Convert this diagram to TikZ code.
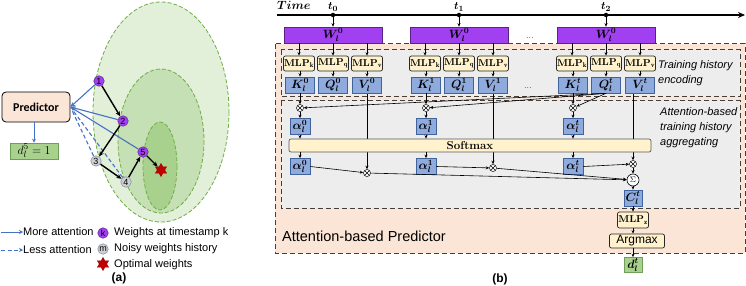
\documentclass[tikz,border=0pt]{standalone}
\usepackage{fontspec}
\usepackage{bm}
\usetikzlibrary{arrows.meta,shapes.geometric,calc}
\newfontfamily\arial{Liberation Sans}
\newfontfamily\carlito{Carlito}
\definecolor{peach}{HTML}{FBE5D6}
\definecolor{lgray}{HTML}{EDEDED}
\definecolor{mlpy}{HTML}{FFF2CC}
\definecolor{kqvfill}{HTML}{8FAADC}
\definecolor{kqvdraw}{HTML}{41639C}
\definecolor{purp}{HTML}{A040F0}
\definecolor{dgreen}{HTML}{A9D18E}
\definecolor{dgreenline}{HTML}{6E9F58}
\definecolor{ell1}{HTML}{E2F0D9}
\definecolor{ell2}{HTML}{C5E0B4}
\definecolor{ell3}{HTML}{A9D18E}
\definecolor{ellline}{HTML}{70AD47}
\definecolor{myblue}{HTML}{4472C4}
\definecolor{starred}{HTML}{C00000}
\definecolor{dashgray}{HTML}{404040}
\definecolor{nodegray}{HTML}{D0D0D0}
\definecolor{nodegrayline}{HTML}{8497B0}
\pgfdeclarelayer{bg}
\pgfdeclarelayer{mid}
\pgfsetlayers{bg,mid,main}
\begin{document}
\begin{tikzpicture}[x=1pt,y=-1pt,
  arr/.style={-{Stealth[length=3.5pt,width=3pt]}, line width=0.6pt},
  blkarr/.style={-{Stealth[length=5pt,width=4.5pt]}, line width=1.4pt},
  bluearr/.style={-{Stealth[length=5pt,width=4.5pt]}, draw=myblue, line width=1.1pt},
  bluedash/.style={draw=myblue, line width=1.1pt, dash pattern=on 4pt off 2.5pt},
  ellstyle/.style={draw=ellline, line width=0.8pt, dash pattern=on 4pt off 2pt},
  pnode/.style={circle, fill=purp, draw=purp!60!black, line width=0.5pt, minimum size=10.5pt, inner sep=0pt, font={\arial\fontsize{9}{9}\selectfont}},
  gnode/.style={circle, fill=nodegray, draw=nodegrayline, line width=0.6pt, minimum size=10.5pt, inner sep=0pt, font={\arial\fontsize{9}{9}\selectfont}},
  optstar/.style={star, star points=6, star point ratio=1.75, fill=starred, draw=starred!80!black, minimum size=13pt, inner sep=0pt},
  legtext/.style={anchor=west, inner sep=0pt, font={\arial\fontsize{11}{13}\selectfont}},
  container/.style={draw=dashgray, line width=1pt, dash pattern=on 5pt off 3pt},
  wbox/.style={draw=purp!55!black, line width=0.6pt, fill=purp, minimum width=98pt, minimum height=16pt, inner sep=0pt, font={\fontsize{12}{12}\selectfont}},
  mlpbox/.style={draw=black!85, line width=0.7pt, rounded corners=2pt, fill=mlpy, minimum width=31pt, minimum height=15pt, inner sep=0pt, font={\fontsize{10}{10}\selectfont}},
  vecbox/.style={draw=kqvdraw, line width=0.7pt, fill=kqvfill, minimum width=29pt, minimum height=16pt, inner sep=0pt, font={\fontsize{12}{12}\selectfont}},
  abox/.style={vecbox, minimum width=20pt},
  mulnode/.style={circle, draw, line width=0.5pt, minimum size=7pt, inner sep=0pt, fill=white,
    path picture={\draw[line width=0.4pt] (path picture bounding box.north west) -- (path picture bounding box.south east) (path picture bounding box.north east) -- (path picture bounding box.south west);}},
  sidetext/.style={anchor=west, align=left, inner sep=0pt, font={\arial\itshape\fontsize{11}{15}\selectfont}},
  tlabel/.style={anchor=base, inner sep=0pt, font={\fontsize{11}{11}\selectfont}}
]
\useasboundingbox (0,0) rectangle (746,286);

% ---------------- (a) ----------------
\draw[ellstyle, fill=ell1] (161,112) ellipse [x radius=68, y radius=110];
\draw[ellstyle, fill=ell2] (161,141) ellipse [x radius=43, y radius=72];
\draw[ellstyle, fill=ell3] (160,166) ellipse [x radius=17, y radius=44];

\node[draw, line width=0.8pt, rounded corners=4pt, fill=peach, minimum width=68pt, minimum height=30pt, inner sep=0pt, font={\carlito\bfseries\fontsize{12}{12}\selectfont}] (pred) at (36,107) {Predictor};
\node[draw=dgreenline, line width=0.7pt, fill=dgreen, minimum width=48pt, minimum height=16pt, inner sep=0pt, font={\fontsize{13}{13}\selectfont}] (dfive) at (34,151) {$d_l^5=1$};
\draw[-{Stealth[length=4pt,width=4pt]}, draw=myblue, line width=1pt] (pred.south -| dfive) -- (dfive);

\node[pnode] (n1) at (99,81) {1};
\node[pnode] (n2) at (123,121) {2};
\node[gnode] (n3) at (96,161) {3};
\node[gnode] (n4) at (126,182) {4};
\node[pnode] (n5) at (143,152) {5};
\node[optstar] (opt) at (161,170) {};

\draw[bluedash, shorten >=4pt] (n3) -- (pred.east);
\draw[bluedash, shorten >=4pt] (n4) -- (pred.east);
\draw[bluearr] (n1) -- (pred.east);
\draw[bluearr] (n2) -- (pred.east);
\draw[bluearr] (n5) -- (pred.east);

\draw[blkarr] (n1) -- (n2);
\draw[blkarr] (n2) -- (n3);
\draw[blkarr] (n3) -- (n4);
\draw[blkarr] (n4) -- (n5);
\draw[blkarr] (n5) -- (opt);

% legend
\coordinate (la1) at (1,232);
\coordinate (la2) at (23,232);
\draw[-{Stealth[length=4pt,width=4pt]}, draw=myblue, line width=1pt] (la1) -- (la2);
\node[legtext] (lt1) at (23,232) {More attention};
\coordinate (lb1) at (1,250);
\coordinate (lb2) at (23,250);
\draw[-{Stealth[length=4pt,width=4pt]}, draw=myblue, line width=1pt, dash pattern=on 4pt off 2.5pt] (lb1) -- (lb2);
\node[legtext] (lt2) at (23,250) {Less attention};
\node[pnode] (lk) at (103,233) {k};
\node[legtext] (lt3) at (114,233) {Weights at timestamp k};
\node[gnode] (lm) at (103,249) {m};
\node[legtext] (lt4) at (114,249) {Noisy weights history};
\node[optstar] (ls) at (103,264) {};
\node[legtext] (lt5) at (114,265) {Optimal weights};
\node[font={\arial\bfseries\fontsize{12}{12}\selectfont}] (capa) at (119,278) {(a)};

% ---------------- (b) ----------------
\begin{pgfonlayer}{bg}
\draw[container, fill=peach] (275,44) rectangle (745,253);
\draw[container, fill=lgray] (281,50) rectangle (740,97);
\draw[container, fill=lgray] (281,101) rectangle (740,208);
\end{pgfonlayer}

\coordinate (ax0) at (277,15);
\coordinate (ax1) at (745,15);
\draw[line width=1.6pt, -{Stealth[length=7pt,width=6pt]}] (ax0) -- (ax1);
\node[anchor=base west, inner sep=0pt, font={\fontsize{12}{12}\selectfont}] (timelbl) at (277,10) {$\bm{Time}$};

\foreach \i/\cx/\s in {0/333/0,1/459/1,2/606/t} {
  \node[circle, fill, inner sep=0pt, minimum size=4.5pt] (t\i) at (\cx,15) {};
  \node[wbox] (w\i) at (\cx,35) {$\bm{W_l^0}$};
  \draw[arr, line width=1pt] (t\i) -- (w\i);
  \node[mlpbox] (mk\i) at (\cx-34,63.5) {\textbf{MLP}$_{\mathbf{k}}$};
  \node[mlpbox] (mq\i) at (\cx,63.5) {\textbf{MLP}$_{\mathbf{q}}$};
  \node[mlpbox] (mv\i) at (\cx+34,63.5) {\textbf{MLP}$_{\mathbf{v}}$};
  \draw[arr] (w\i.south -| mk\i) -- (mk\i);
  \draw[arr] (w\i.south -| mq\i) -- (mq\i);
  \draw[arr] (w\i.south -| mv\i) -- (mv\i);
  \node[vecbox] (k\i) at (\cx-33,85) {$\bm{K_l^{\s}}$};
  \node[vecbox] (q\i) at (\cx,85) {$\bm{Q_l^{\s}}$};
  \node[vecbox] (v\i) at (\cx+34,85) {$\bm{V_l^{\s}}$};
  \draw[arr] (mk\i.south -| k\i) -- (k\i);
  \draw[arr] (mq\i) -- (q\i);
  \draw[arr] (mv\i.south -| v\i) -- (v\i);
  \node[mulnode] (ma\i) at (\cx-33,108) {};
  \draw[arr] (k\i) -- (ma\i);
  \node[abox] (a\i) at (\cx-33,126.5) {$\bm{\alpha_l^{\s}}$};
  \draw[arr] (ma\i) -- (a\i);
  \node[abox] (b\i) at (\cx-33,166.5) {$\bm{\alpha_l^{\s}}$};
}
\node[tlabel] (tl0) at (333,10) {$\bm{t_0}$};
\node[tlabel] (tl1) at (459,10) {$\bm{t_1}$};
\node[tlabel] (tl2) at (606,10) {$\bm{t_2}$};
\node[font={\fontsize{9}{9}\selectfont}] (dots1) at (530,38) {...};
\node[font={\fontsize{9}{9}\selectfont}] (dots2) at (528,88) {...};

\draw[arr] (q2.south) -- (ma0);
\draw[arr] (q2.south) -- (ma1);
\draw[arr] (q2.south) -- (ma2);

\node[draw=black!65, line width=0.7pt, rounded corners=2pt, fill=mlpy, minimum width=362pt, minimum height=13pt, inner sep=0pt, font={\fontsize{11.5}{11.5}\selectfont}] (soft) at (470,145.5) {\textbf{Softmax}};
\foreach \i in {0,1,2} {
  \draw[arr] (a\i) -- (a\i |- soft.north);
  \draw[arr] (b\i |- soft.south) -- (b\i);
}

\node[mulnode] (mb0) at (367,173) {};
\node[mulnode] (mb1) at (493,168) {};
\node[mulnode] (mb2) at (633,164) {};
\begin{pgfonlayer}{mid}
\draw[arr] (v0) -- (mb0);
\draw[arr] (v1) -- (mb1);
\draw[arr] (v2.south -| mb2) -- (mb2);
\end{pgfonlayer}
\draw[arr] (b0.east) -- (mb0);
\draw[arr] (b1.east) -- (mb1);
\draw[arr] (b2.east) -- (mb2);

\node[circle, draw, line width=0.6pt, fill=white, minimum size=12pt, inner sep=0pt, font={\fontsize{8}{8}\selectfont}] (sum) at (633,180) {$\Sigma$};
\draw[arr] (mb0) -- (sum);
\draw[arr] (mb1) -- (sum);
\draw[arr] (mb2) -- (sum);

\node[abox, minimum width=18pt] (cbox) at (633,198) {$\bm{C_l^{t}}$};
\draw[arr] (sum) -- (cbox);
\node[mlpbox, minimum height=16pt] (mz) at (633,220) {\textbf{MLP}$_{\mathbf{z}}$};
\draw[arr] (cbox) -- (mz);
\node[draw=black!85, line width=0.7pt, rounded corners=2pt, fill=mlpy, minimum width=55pt, minimum height=14pt, inner sep=0pt, font={\arial\fontsize{12}{12}\selectfont}] (amax) at (637,241) {Argmax};
\draw[arr] (mz) -- (mz |- amax.north);
\node[draw=dgreenline, line width=0.7pt, fill=dgreen, minimum width=18pt, minimum height=15pt, inner sep=0pt, font={\fontsize{12}{12}\selectfont}] (dt) at (633,265) {$\bm{d_l^{t}}$};
\draw[arr] (dt |- amax.south) -- (dt);

\node[sidetext] (enc) at (658,73) {Training history\\encoding};
\node[sidetext, anchor=north west] (agg) at (660,107) {Attention-based\\training history\\aggregating};
\node[anchor=west, inner sep=0pt, font={\arial\fontsize{14.5}{15}\selectfont}] (apred) at (282,236) {Attention-based Predictor};
\node[font={\arial\bfseries\fontsize{12}{12}\selectfont}] (capb) at (500,279) {(b)};
\end{tikzpicture}
\end{document}
